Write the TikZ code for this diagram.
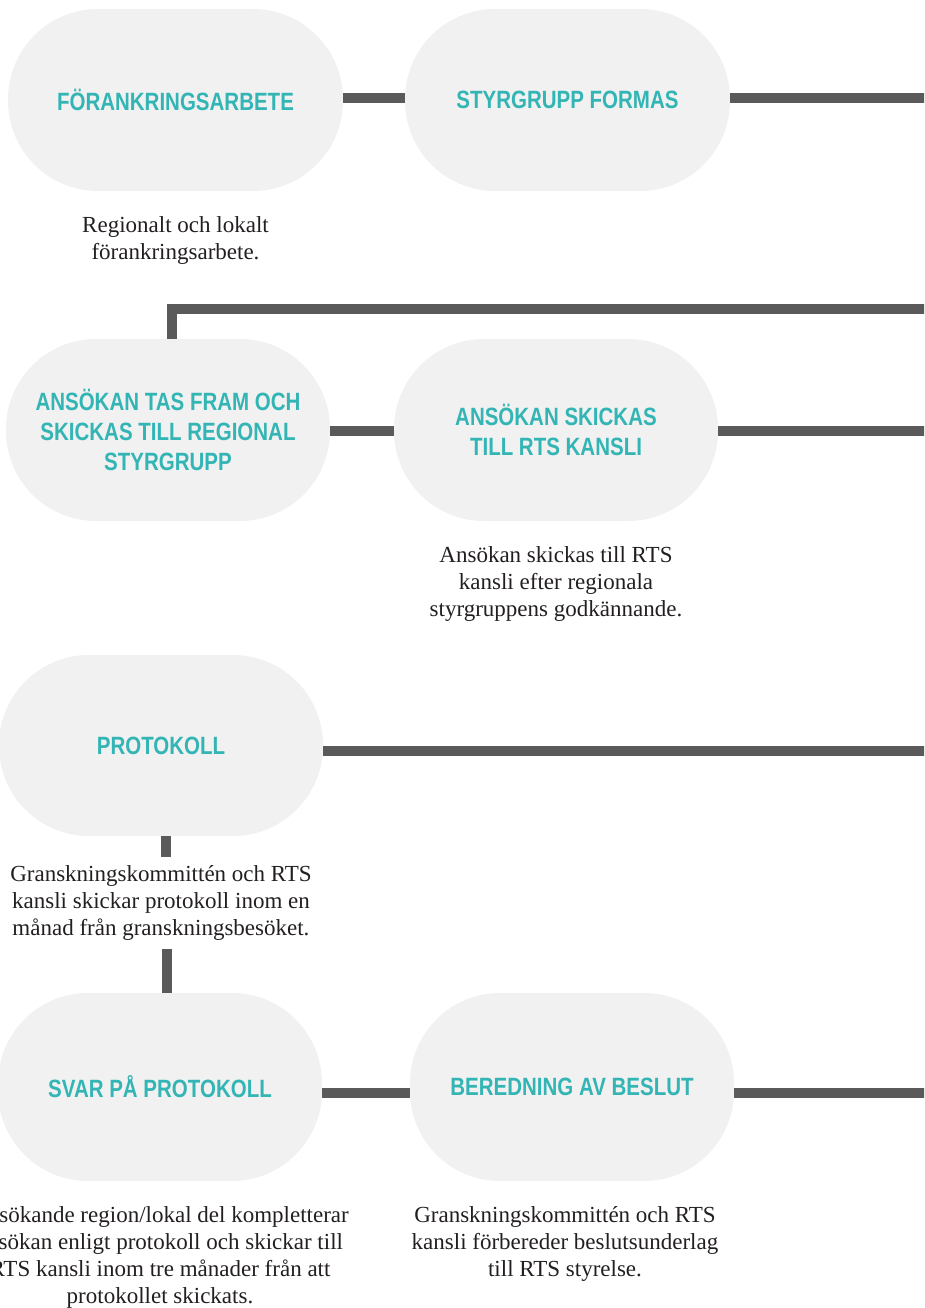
\documentclass[tikz,border=0pt]{standalone}
\usepackage{fontspec}
\usetikzlibrary{positioning}
\newfontfamily\stagefont[FakeStretch=0.82]{Liberation Sans}
\newfontfamily\notefont{Liberation Serif}
\definecolor{stagegray}{RGB}{241,241,241}
\definecolor{stageteal}{RGB}{50,181,180}
\definecolor{linkgray}{RGB}{90,90,91}
\definecolor{notegray}{RGB}{35,31,32}

\begin{document}
\begin{tikzpicture}[x=1pt,y=-1pt]
\tikzstyle{stage}=[
  rectangle,
  rounded corners=90pt,
  fill=stagegray,
  minimum width=324pt,
  minimum height=182pt,
  inner sep=0pt,
  align=center,
  text=stageteal,
  font=\stagefont\bfseries\fontsize{25}{30}\selectfont ]
\tikzstyle{note}=[
  align=center,
  inner sep=8pt,
  text=notegray,
  font=\notefont\fontsize{23}{27}\selectfont ]
\tikzstyle{link}=[line width=10pt, draw=linkgray, line join=miter]
\useasboundingbox (0,0) rectangle (924,1308);
\clip (0,0) rectangle (924,1308);

% row 1
\node[stage, minimum width=335pt] (forankring) at (175.5,100) {FÖRANKRINGSARBETE};
\node[stage, minimum width=325pt] (styrgrupp) at (567.5,100) {STYRGRUPP FORMAS};
\node[note, below=17pt of forankring] (forankringtext) {Regionalt och lokalt\\förankringsarbete.};
\coordinate (edge1) at (930,98);
\draw[link] ([yshift=2pt]forankring.east) -- ([yshift=2pt]styrgrupp.west);
\draw[link] ([yshift=2pt]styrgrupp.east) -- (edge1);

% row 2
\node[stage] (ansokan) at (168,430) {ANSÖKAN TAS FRAM OCH\\SKICKAS TILL REGIONAL\\STYRGRUPP};
\node[stage] (skickas) at (556,430) {ANSÖKAN SKICKAS\\TILL RTS KANSLI};
\node[note, below=17pt of skickas] (skickastext) {Ansökan skickas till RTS\\kansli efter regionala\\styrgruppens godkännande.};
\coordinate (edge2) at (930,309);
\coordinate (edge3) at (930,431);
\draw[link] ([xshift=4pt]ansokan.north) |- (edge2);
\draw[link] ([yshift=-1pt]ansokan.east) -- ([yshift=-1pt]skickas.west);
\draw[link] ([yshift=-1pt]skickas.east) -- (edge3);

% row 3
\node[stage, minimum height=181pt] (protokoll) at (161,745.5) {PROTOKOLL};
\node[note, below=21pt of protokoll] (protokolltext) {Granskningskommittén och RTS\\kansli skickar protokoll inom en\\månad från granskningsbesöket.};
\coordinate (edge4) at (930,751);
\draw[link] (protokoll.east |- edge4) -- (edge4);
\draw[link] ([xshift=5pt]protokoll.south) -- ([xshift=5pt]protokoll.south |- protokolltext.north);

% row 4
\node[stage, minimum height=188pt] (svar) at (160,1087) {SVAR PÅ PROTOKOLL};
\node[stage, minimum height=188pt] (beredning) at (572,1087) {BEREDNING AV BESLUT};
\node[note, below=17pt of svar] (svartext) {Ansökande region/lokal del kompletterar\\ansökan enligt protokoll och skickar till\\RTS kansli inom tre månader från att\\protokollet skickats.};
\node[note, below=17pt of beredning, xshift=-7pt] (beredningtext) {Granskningskommittén och RTS\\kansli förbereder beslutsunderlag\\till RTS styrelse.};
\coordinate (edge5) at (930,1093);
\draw[link] ([xshift=7pt]svar.north |- protokolltext.south) -- ([xshift=7pt]svar.north);
\draw[link] ([yshift=-6pt]svar.east) -- ([yshift=-6pt]beredning.west);
\draw[link] (beredning.east |- edge5) -- (edge5);
\end{tikzpicture}
\end{document}
